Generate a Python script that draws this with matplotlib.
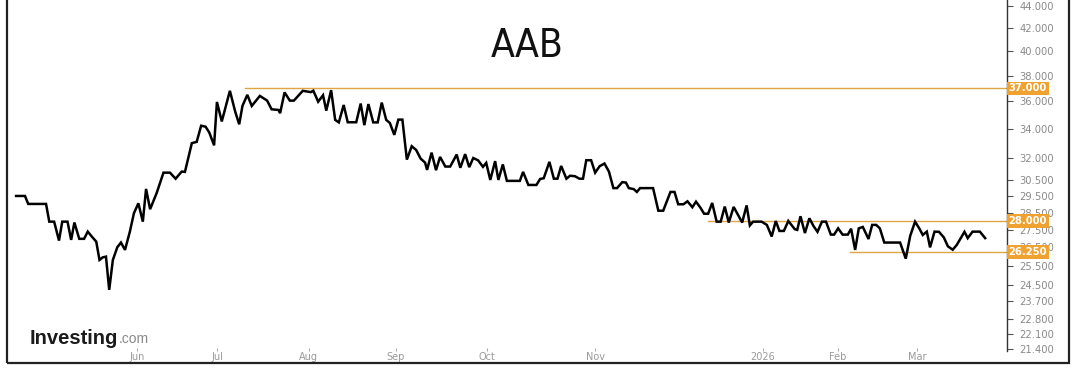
import numpy as np
import matplotlib
matplotlib.use("Agg")
import matplotlib.pyplot as plt
import matplotlib.transforms as mtransforms
from matplotlib.patches import Rectangle

# ---------------- data ----------------
title = "AAB"
# trading-session number (from first session shown) and closing price
session = [0.0, 2.2, 3.0, 7.4, 8.2, 9.4, 10.6, 11.4, 12.7, 13.6, 14.4, 15.6, 16.8, 17.7, 18.7,
           19.8, 20.6, 21.4, 22.2, 23.0, 23.9, 25.0, 25.9, 26.9, 28.1, 29.1, 30.2, 31.3, 32.1,
           33.1, 34.7, 36.4, 38.0, 39.4, 40.9, 41.7, 43.4, 44.6, 45.7, 46.8, 47.7, 48.9, 49.6,
           50.8, 52.8, 54.1, 55.1, 55.9, 57.1, 58.2, 60.2, 62.0, 63.1, 64.8, 65.2, 66.3, 67.6,
           68.6, 70.8, 72.8, 73.4, 74.6, 75.8, 76.6, 77.8, 78.8, 79.7, 80.9, 81.9, 84.0, 85.1,
           86.0, 87.0, 88.2, 89.3, 90.3, 91.4, 92.3, 93.4, 94.4, 95.4, 96.5, 97.7, 98.8, 99.9,
           101.0, 101.5, 102.6, 103.7, 104.7, 106.0, 107.2, 108.8, 109.7, 110.9, 111.9, 112.9,
           114.1, 115.3, 116.1, 117.1, 118.3, 119.1, 120.2, 121.2, 124.4, 125.2, 126.5, 128.5,
           129.4, 130.3, 131.7, 132.8, 133.7, 134.6, 135.9, 136.8, 138.0, 139.1, 140.0, 140.8,
           142.0, 143.0, 144.1, 145.3, 146.4, 147.5, 148.4, 149.7, 150.6, 151.3, 152.5, 153.3,
           154.1, 157.3, 158.6, 159.8, 161.6, 162.6, 163.5, 164.8, 165.8, 167.0, 167.9, 169.0,
           169.9, 170.9, 171.9, 173.0, 174.0, 175.0, 176.0, 177.2, 179.3, 180.4, 181.2, 182.0,
           184.1, 185.4, 186.6, 187.6, 188.5, 189.6, 190.7, 192.3, 192.9, 193.7, 194.8, 195.9,
           196.9, 197.9, 199.0, 200.0, 201.2, 202.0, 203.0, 204.1, 205.4, 206.2, 207.2, 208.1,
           209.1, 210.5, 211.4, 212.4, 213.3, 214.4, 218.3, 219.7, 220.8, 222.0, 223.1, 223.9,
           224.9, 225.7, 226.8, 227.9, 229.1, 230.1, 231.3, 232.3, 234.2, 235.0, 236.2, 238.0,
           239.3]
price = [29.52, 29.52, 29.03, 29.03, 27.97, 27.97, 26.88, 27.97, 27.97, 26.92, 27.92, 26.98, 26.98,
         27.39, 27.11, 26.82, 25.81, 25.95, 25.99, 24.24, 25.81, 26.51, 26.77, 26.36, 27.39, 28.47,
         29.07, 27.97, 29.96, 28.71, 29.69, 31.00, 31.00, 30.61, 31.07, 31.05, 32.98, 33.07, 34.21,
         34.14, 33.73, 32.83, 35.96, 34.52, 36.81, 35.25, 34.31, 35.66, 36.50, 35.66, 36.42, 36.06,
         35.41, 35.36, 35.12, 36.69, 36.06, 36.06, 36.81, 36.71, 36.82, 35.98, 36.47, 35.31, 36.86,
         34.63, 34.45, 35.73, 34.46, 34.46, 35.84, 34.25, 35.80, 34.45, 34.45, 35.91, 34.63, 34.41,
         33.56, 34.65, 34.65, 31.86, 32.77, 32.51, 31.93, 31.66, 31.18, 32.33, 31.16, 32.04, 31.40,
         31.40, 32.20, 31.32, 32.23, 31.36, 31.97, 31.81, 31.38, 31.64, 30.53, 31.76, 30.53, 31.54,
         30.47, 30.47, 31.05, 30.21, 30.21, 30.59, 30.64, 31.71, 30.61, 30.61, 31.44, 30.61, 30.80,
         30.77, 30.61, 30.61, 31.82, 31.82, 31.00, 31.42, 31.60, 31.07, 30.01, 30.01, 30.39, 30.36,
         30.01, 29.95, 29.77, 30.01, 30.01, 28.62, 28.62, 29.77, 29.77, 29.01, 29.01, 29.19, 28.83,
         29.17, 28.80, 28.44, 28.44, 29.09, 27.97, 27.97, 28.87, 27.92, 28.85, 27.92, 28.94, 27.75,
         27.97, 27.97, 27.78, 27.11, 28.01, 27.43, 27.43, 28.01, 27.53, 27.49, 28.29, 27.31, 28.17,
         27.72, 27.38, 27.97, 27.97, 27.22, 27.22, 27.58, 27.22, 27.22, 27.56, 26.36, 27.58, 27.66,
         26.97, 27.78, 27.78, 27.58, 26.77, 26.77, 25.88, 27.15, 27.97, 27.55, 27.20, 27.39, 26.50,
         27.39, 27.38, 27.06, 26.56, 26.37, 26.64, 27.38, 27.02, 27.39, 27.39, 27.02]

month_labels = ["Jun", "Jul", "Aug", "Sep", "Oct", "Nov", "2026", "Feb", "Mar"]
month_sessions = [29.9, 49.6, 72.3, 93.8, 116.3, 143.0, 184.4, 203.0, 222.5]

y_ticks = [44.0, 42.0, 40.0, 38.0, 36.0, 34.0, 32.0, 30.5, 29.5, 28.5, 27.5, 26.5, 25.5,
           24.5, 23.7, 22.8, 22.1, 21.4]

# horizontal levels and the session where each starts
levels = [37.0, 28.0, 26.25]
level_starts = [56.5, 170.9, 205.9]

# ---------------- style ----------------
W, H = 1078, 375
fig = plt.figure(figsize=(W / 100, H / 100), dpi=100)
fig.patch.set_facecolor("white")

ax_left, ax_right, ax_top, ax_bottom = 10, 1007, 0, 351
ax = fig.add_axes([ax_left / W, 1 - ax_bottom / H, (ax_right - ax_left) / W, (ax_bottom - ax_top) / H])
ax.set_facecolor("white")

ax.plot(session, price, color="black", lw=1.8, solid_joinstyle="miter", zorder=3)

ax.set_yscale("log")
ax.set_ylim(21.32, 44.54)
ax.set_xlim(-1.5, 244.7)

level_color = "#DDA544"
for lv, st in zip(levels, level_starts):
    ax.plot([st, 244.7], [lv, lv], color=level_color, lw=1.0, zorder=2)

ax.yaxis.tick_right()
ax.set_yticks(y_ticks)
ax.set_yticklabels([f"{v:.3f}" for v in y_ticks])
ax.yaxis.set_minor_locator(matplotlib.ticker.NullLocator())
ax.tick_params(axis="y", which="major", direction="out", length=4, width=0.8,
               color="#555555", labelcolor="#8a8a8a", labelsize=7.2, pad=5)

ax.set_xticks(month_sessions)
ax.set_xticklabels(month_labels)
ax.tick_params(axis="x", which="major", direction="in", length=2, width=0.8,
               color="#aaaaaa", labelcolor="#9a9a9a", labelsize=7, pad=1)

for s in ["left", "top", "bottom"]:
    ax.spines[s].set_visible(False)
ax.spines["right"].set_color("#333333")
ax.spines["right"].set_linewidth(1.0)

# highlighted price labels
trans = mtransforms.blended_transform_factory(ax.transAxes, ax.transData)
for lv in levels:
    ax.text(1.0015, lv, f"{lv:.3f}", transform=trans, ha="left", va="center",
            fontsize=7.2, color="white", fontweight="bold", zorder=6,
            bbox=dict(boxstyle="square,pad=0.18", fc="#F0A230", ec="none"), clip_on=False)

# title
fig.text(527 / W, 1 - 46 / H, title, ha="center", va="center", fontsize=28,
         family=["Liberation Sans Narrow", "DejaVu Sans"], fontstretch="condensed", color="#111111")

# Investing.com logo
fig.text(30 / W, 1 - 338 / H, "Investing", ha="left", va="center", fontsize=14.5,
         fontweight="heavy", color="#1a1a1a", family=["Liberation Sans", "DejaVu Sans"])
fig.text(119 / W, 1 - 339 / H, ".com", ha="left", va="center", fontsize=10,
         color="#8a8a8a", family=["Liberation Sans", "DejaVu Sans"])

# outer frame
fig.patches.append(Rectangle((7 / W, 1 - 363 / H), (1069 - 7) / W, (363 + 5) / H,
                             transform=fig.transFigure, fill=False, ec="#222222", lw=1.6))

fig.savefig("out.png", dpi=100, facecolor="white")
